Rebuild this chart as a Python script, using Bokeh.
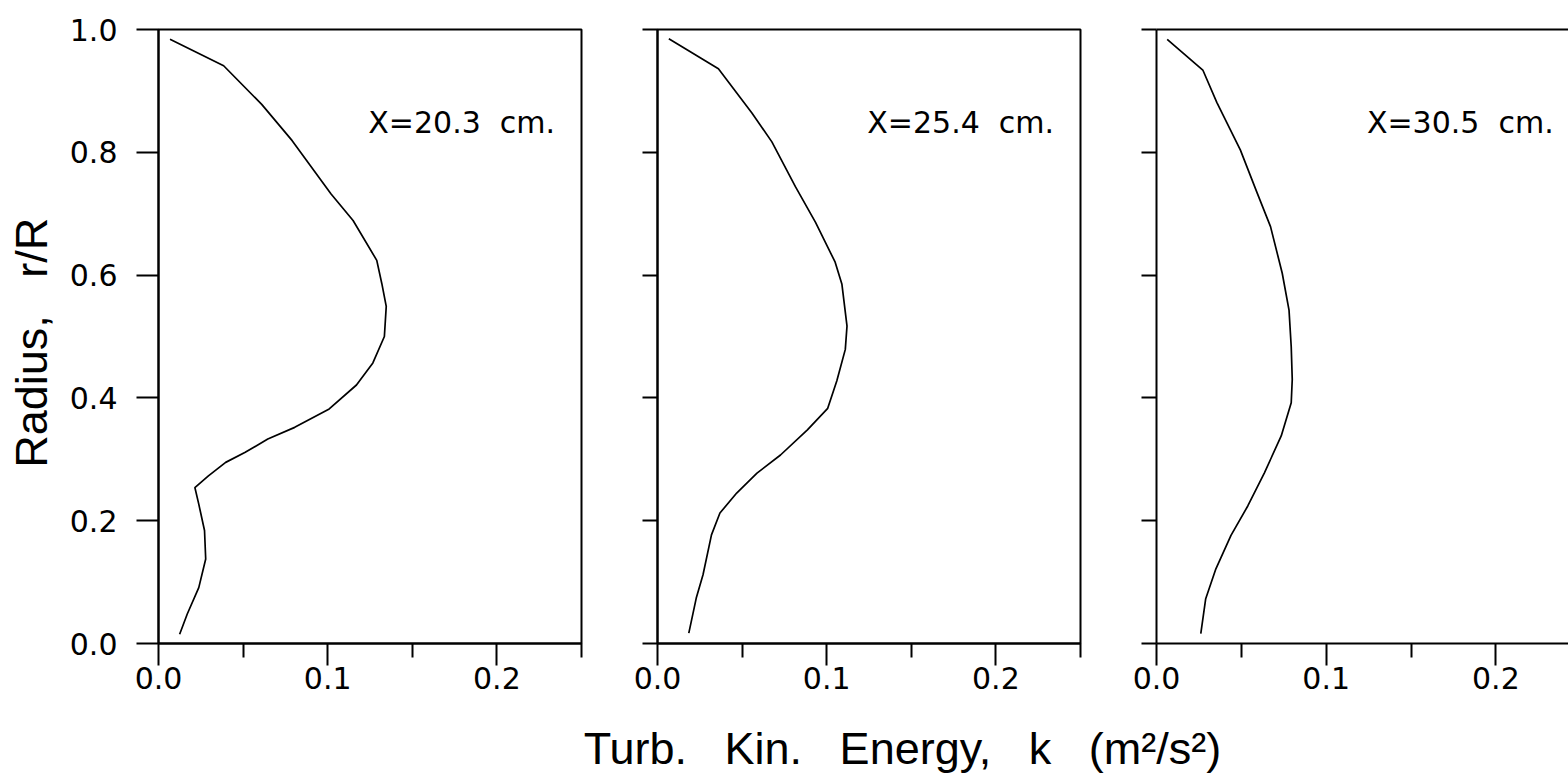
from bokeh.plotting import figure
from bokeh.layouts import row, column
from bokeh.models import FixedTicker, PrintfTickFormatter, Label, LinearAxis, Range1d
from bokeh.embed import file_html
from bokeh.resources import INLINE

# ---- data ----
k_203 = [0.0068, 0.0385, 0.061, 0.079, 0.102, 0.115, 0.129, 0.132, 0.1346, 0.1335, 0.1267,
         0.117, 0.1009, 0.0805, 0.0646, 0.051, 0.0397, 0.0295, 0.0215, 0.0238, 0.0272,
         0.0279, 0.0238, 0.017, 0.0125]
r_203 = [0.984, 0.941, 0.878, 0.819, 0.732, 0.689, 0.624, 0.586, 0.549, 0.500, 0.457,
         0.421, 0.382, 0.352, 0.333, 0.311, 0.295, 0.273, 0.254, 0.227, 0.184,
         0.1375, 0.091, 0.048, 0.015]

k_254 = [0.0067, 0.036, 0.0558, 0.0676, 0.0815, 0.0934, 0.105, 0.109, 0.112, 0.111, 0.106,
         0.1006, 0.0886, 0.0727, 0.0588, 0.0468, 0.0369, 0.0319, 0.0269, 0.0229, 0.0185]
r_254 = [0.985, 0.936, 0.864, 0.817, 0.744, 0.686, 0.621, 0.585, 0.517, 0.479, 0.428,
         0.383, 0.348, 0.307, 0.2775, 0.245, 0.2125, 0.177, 0.112, 0.074, 0.017]

k_305 = [0.0063, 0.0273, 0.0356, 0.0494, 0.0593, 0.0672, 0.0741, 0.0781, 0.0794, 0.080,
         0.0794, 0.0735, 0.0636, 0.0538, 0.0439, 0.035, 0.029, 0.0261]
r_305 = [0.984, 0.934, 0.881, 0.804, 0.734, 0.679, 0.603, 0.543, 0.483, 0.43,
         0.392, 0.338, 0.278, 0.224, 0.176, 0.1216, 0.073, 0.016]

stations = ["X=20.3\u00a0\u00a0cm.", "X=25.4\u00a0\u00a0cm.", "X=30.5\u00a0\u00a0cm."]
x_ticks = [0.0, 0.1, 0.2]
x_minor = [0.05, 0.15, 0.25]
y_ticks = [0.0, 0.2, 0.4, 0.6, 0.8, 1.0]
y_title = "Radius,\u00a0\u00a0\u00a0r/R\u00a0"
x_title = "Turb.\u00a0\u00a0\u00a0Kin.\u00a0\u00a0\u00a0Energy,\u00a0\u00a0\u00a0k\u00a0\u00a0\u00a0(m\u00b2/s\u00b2)"

TICK_FONT = "DejaVu Sans"
TITLE_FONT = "Liberation Sans"
PANEL_H = 715
B_TOP = 29
FRAME_H = 614


def make_panel(k, r, label, width, b_left, b_right, x_end,
               show_ylabels, ytick_len, outline=True):
    p = figure(width=width, height=PANEL_H, output_backend="svg", toolbar_location=None,
               x_range=Range1d(0, x_end), y_range=Range1d(0, 1.0),
               min_border_left=b_left, min_border_right=b_right,
               min_border_top=B_TOP, min_border_bottom=PANEL_H - B_TOP - FRAME_H)
    p.xgrid.visible = False
    p.ygrid.visible = False
    p.background_fill_color = "white"
    p.border_fill_color = "white"

    xa = p.below[0]
    xa.ticker = FixedTicker(ticks=x_ticks, minor_ticks=x_minor)
    xa.formatter = PrintfTickFormatter(format="%.1f")
    xa.axis_line_width = 2
    xa.axis_line_color = "black"
    xa.major_tick_line_color = "black"
    xa.major_tick_line_width = 2
    xa.major_tick_out = 22
    xa.major_tick_in = 0
    xa.minor_tick_line_color = "black"
    xa.minor_tick_line_width = 2
    xa.minor_tick_out = 14
    xa.minor_tick_in = 0
    xa.major_label_text_font = TICK_FONT
    xa.major_label_text_font_size = "30px"
    xa.major_label_text_color = "black"
    xa.major_label_standoff = 1

    ya = p.left[0]
    ya.ticker = FixedTicker(ticks=y_ticks, minor_ticks=[])
    ya.axis_line_width = 2
    ya.axis_line_color = "black"
    ya.major_tick_line_color = "black"
    ya.major_tick_line_width = 2
    ya.major_tick_out = ytick_len
    ya.major_tick_in = 0
    ya.minor_tick_line_color = None
    if show_ylabels:
        ya.formatter = PrintfTickFormatter(format="%.1f")
        ya.major_label_text_font = TICK_FONT
        ya.major_label_text_font_size = "30px"
        ya.major_label_text_color = "black"
        ya.major_label_standoff = 19
        ya.axis_label = y_title
        ya.axis_label_text_font = TITLE_FONT
        ya.axis_label_text_font_size = "45px"
        ya.axis_label_text_font_style = "normal"
        ya.axis_label_text_color = "black"
        ya.axis_label_standoff = 10
    else:
        ya.major_label_overrides = {t: "" for t in y_ticks}
        ya.major_label_text_font_size = "0px"

    if outline:
        p.outline_line_color = "black"
        p.outline_line_width = 2
        p.outline_line_alpha = 1.0
    else:
        p.outline_line_color = None
        top = LinearAxis(ticker=FixedTicker(ticks=[], minor_ticks=[]), axis_line_width=2,
                         axis_line_color="black", major_label_text_font_size="0px",
                         major_tick_line_color=None, minor_tick_line_color=None)
        p.add_layout(top, "above")

    p.line(k, r, line_color="black", line_width=1.7)
    p.add_layout(Label(x=0.124, y=0.849, text=label, text_font=TICK_FONT,
                       text_font_size="30px", text_color="black",
                       text_align="left", text_baseline="middle"))
    return p


p1 = make_panel(k_203, r_203, stations[0], width=600, b_left=158, b_right=19,
                x_end=0.25, show_ylabels=True, ytick_len=22)
p2 = make_panel(k_254, r_254, stations[1], width=498, b_left=57, b_right=18,
                x_end=0.25, show_ylabels=False, ytick_len=15)
p3 = make_panel(k_305, r_305, stations[2], width=470, b_left=58, b_right=0,
                x_end=0.2428, show_ylabels=False, ytick_len=15, outline=False)

# common x-axis title strip
strip_h = 781 - PANEL_H
pt = figure(width=1568, height=strip_h, output_backend="svg", toolbar_location=None,
            x_range=Range1d(0, 1568), y_range=Range1d(0, strip_h),
            min_border=0, min_border_left=0, min_border_right=0,
            min_border_top=0, min_border_bottom=0)
pt.axis.visible = False
pt.grid.visible = False
pt.outline_line_color = None
pt.add_layout(Label(x=902, y=33.5, text=x_title, text_font=TITLE_FONT,
                    text_font_size="45px", text_color="black",
                    text_align="center", text_baseline="middle"))

layout = column(row(p1, p2, p3, spacing=0), pt, spacing=0)

open("out.html", "w").write(file_html(layout, INLINE))
